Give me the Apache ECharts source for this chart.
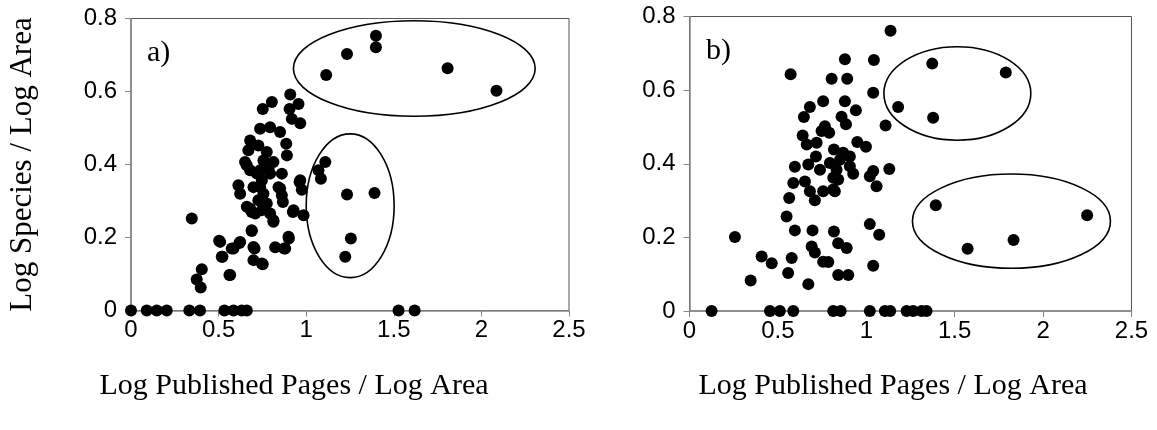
<!DOCTYPE html>
<html>
<head>
<meta charset="utf-8">
<script src="https://cdn.jsdelivr.net/npm/echarts@6/dist/echarts.min.js"></script>
<style>html,body{margin:0;padding:0;background:#fff}#c{width:1157px;height:430px}</style>
</head>
<body>
<div id="c"></div>
<script>
// ---- data ----
const xTicks = [0, 0.5, 1, 1.5, 2, 2.5];
const yTicks = [0, 0.2, 0.4, 0.6, 0.8];
const xTitle = 'Log Published Pages / Log Area';
const yTitle = 'Log Species / Log Area';
const panelLabels = ['a)', 'b)'];

const pointsA = [
  [0,0],[0.09,0],[0.147,0],[0.204,0],[0.333,0],[0.394,0],[0.533,0],[0.585,0],[0.632,0],[0.661,0],[1.527,0],[1.619,0],
  [0.347,0.252],[0.404,0.113],[0.375,0.085],[0.398,0.063],
  [0.503,0.191],[0.522,0.147],[0.562,0.097],[0.585,0.17],[0.619,0.185],[0.689,0.218],[0.705,0.17],[0.699,0.138],
  [0.752,0.127],[0.823,0.173],[0.874,0.17],[0.901,0.197],[0.924,0.27],[0.985,0.261],[0.962,0.352],[0.975,0.331],
  [1.109,0.407],[1.07,0.384],[1.084,0.361],[1.233,0.318],[1.39,0.322],[1.255,0.197],[1.223,0.147],
  [1.398,0.753],[1.398,0.721],[1.233,0.703],[1.807,0.664],[2.086,0.602],[1.114,0.645],
  [0.613,0.343],[0.623,0.32],[0.68,0.279],[0.709,0.266],[0.794,0.266],[0.813,0.247],[0.851,0.334],[0.867,0.297],
  [0.861,0.375],[0.737,0.338],[0.756,0.32],[0.727,0.302],[0.775,0.293],[0.747,0.357],[0.718,0.375],[0.794,0.375],[0.661,0.398],
  [0.909,0.592],[0.956,0.566],[0.905,0.552],[0.918,0.525],[0.966,0.513],[0.752,0.552],[0.804,0.571],[0.737,0.498],
  [0.794,0.502],[0.851,0.489],[0.886,0.457],[0.89,0.425],[0.68,0.466],[0.67,0.439],[0.727,0.452],[0.775,0.434],
  [0.756,0.411],[0.813,0.407],[0.651,0.407],[0.68,0.384],[0.737,0.384],[0.785,0.389],
  [0.699,0.338],[0.842,0.338],[0.861,0.316],[0.966,0.357],[0.661,0.284],[0.689,0.27],[0.747,0.275],[0.813,0.243],
  [0.928,0.275],[0.689,0.22],[0.509,0.188],[0.575,0.17],[0.623,0.188],[0.518,0.147],[0.699,0.174],[0.747,0.129],
  [0.88,0.17],[0.899,0.202],[0.566,0.097]
];

const pointsB = [
  [0.125,0],[0.455,0],[0.511,0],[0.587,0],[0.813,0],[0.855,0],[1.02,0],[1.105,0],[1.135,0],[1.228,0],[1.265,0],[1.313,0],[1.341,0],
  [1.373,0.672],[1.789,0.648],[1.18,0.554],[1.378,0.525],
  [1.393,0.287],[1.573,0.169],[1.833,0.193],[2.249,0.26],
  [1.137,0.761],[0.879,0.684],[1.043,0.682],[0.572,0.643],[0.804,0.631],[0.892,0.631],[1.039,0.593],
  [0.756,0.57],[0.879,0.57],[0.681,0.554],[0.941,0.545],[0.647,0.527],[0.86,0.528],[0.885,0.507],[1.109,0.504],
  [0.766,0.502],[0.747,0.489],[0.79,0.484],[0.64,0.477],[0.663,0.452],[0.719,0.457],[0.949,0.459],[0.998,0.446],
  [0.817,0.439],[0.869,0.43],[0.715,0.42],[0.596,0.392],[0.672,0.398],[0.738,0.384],[0.794,0.402],[0.832,0.384],
  [0.907,0.393],[0.926,0.373],[1.039,0.38],[1.13,0.386],[0.813,0.362],[1.02,0.366],[1.058,0.339],[0.587,0.348],
  [0.653,0.352],[0.681,0.325],[0.756,0.325],[0.822,0.325],[0.564,0.307],[0.709,0.301],
  [0.851,0.411],[0.841,0.357],[0.813,0.33],[0.907,0.42],
  [0.549,0.257],[0.596,0.219],[0.696,0.219],[0.817,0.216],[1.02,0.236],[1.073,0.207],[0.691,0.175],[0.709,0.159],
  [0.841,0.184],[0.889,0.171],[0.408,0.148],[0.465,0.13],[0.578,0.144],[0.756,0.134],[0.785,0.133],[1.039,0.123],
  [0.558,0.103],[0.841,0.098],[0.898,0.098],[0.346,0.083],[0.672,0.073],[0.257,0.201]
];

// ellipses: [centerX, centerY, radiusX, radiusY] in data units
const ellipsesA = [[1.617,0.663,0.69,0.131],[1.251,0.287,0.251,0.197]];
const ellipsesB = [[1.515,0.591,0.4155,0.127],[1.821,0.244,0.56,0.128]];

// ---- chart ----
const chart = echarts.init(document.getElementById('c'), null, {renderer:'canvas'});
const tickFont = 'Liberation Sans';
const titleFont = 'Liberation Serif';

function xAxis(gridIndex){
  return {
    gridIndex, type:'value', min:xTicks[0], max:xTicks[xTicks.length-1], interval:0.5,
    axisLine:{show:true, onZero:false, lineStyle:{color:'#868686', width:1.5}},
    axisTick:{show:true, inside:false, length:6, lineStyle:{color:'#868686'}},
    axisLabel:{fontFamily:tickFont, fontSize:24, color:'#000', margin:8},
    splitLine:{show:false}
  };
}
function yAxis(gridIndex, withName){
  return {
    gridIndex, type:'value', min:yTicks[0], max:yTicks[yTicks.length-1], interval:0.2,
    name: withName ? yTitle : '', nameLocation:'middle', nameGap:93, nameRotate:90,
    nameTextStyle:{fontFamily:titleFont, fontSize:31, color:'#000'},
    axisLine:{show:true, onZero:false, lineStyle:{color:'#868686', width:1.5}},
    axisTick:{show:true, inside:false, length:6, lineStyle:{color:'#868686'}},
    axisLabel:{fontFamily:tickFont, fontSize:24, color:'#000', margin:14,
      formatter: v => String(Math.round(v*10)/10)},
    splitLine:{show:false}
  };
}
function ellipseSeries(idx, data){
  return {
    type:'custom', xAxisIndex:idx, yAxisIndex:idx, data, silent:true, z:1,
    encode:{x:0, y:1},
    renderItem(params, api){
      const c = api.coord([api.value(0), api.value(1)]);
      const s = api.size([api.value(2), api.value(3)]);
      return {type:'ellipse', shape:{cx:c[0], cy:c[1], rx:s[0], ry:s[1]},
        style:{fill:'none', stroke:'#000', lineWidth:1.6}};
    }
  };
}
function scatterSeries(idx, data){
  return {type:'scatter', xAxisIndex:idx, yAxisIndex:idx, data, symbol:'circle', symbolSize:12,
    itemStyle:{color:'#000', opacity:1}, z:3, animation:false};
}

chart.setOption({
  animation:false,
  backgroundColor:'#fff',
  grid:[
    {left:131, top:18.5, width:438, height:292, show:true, borderColor:'#555', borderWidth:1},
    {left:689.5, top:16.5, width:442, height:294.5, show:true, borderColor:'#555', borderWidth:1}
  ],
  xAxis:[xAxis(0), xAxis(1)],
  yAxis:[yAxis(0,true), yAxis(1,false)],
  graphic:[
    {type:'text', left:147, top:38, style:{text:panelLabels[0], font:'30px Liberation Serif', fill:'#000'}},
    {type:'text', left:706, top:36, style:{text:panelLabels[1], font:'30px Liberation Serif', fill:'#000'}},
    {type:'text', x:294, y:371, style:{text:xTitle, font:'30px Liberation Serif', fill:'#000', textAlign:'center', textVerticalAlign:'top'}},
    {type:'text', x:893, y:371, style:{text:xTitle, font:'30px Liberation Serif', fill:'#000', textAlign:'center', textVerticalAlign:'top'}}
  ],
  series:[
    ellipseSeries(0, ellipsesA), scatterSeries(0, pointsA),
    ellipseSeries(1, ellipsesB), scatterSeries(1, pointsB)
  ]
});
</script>
</body>
</html>
